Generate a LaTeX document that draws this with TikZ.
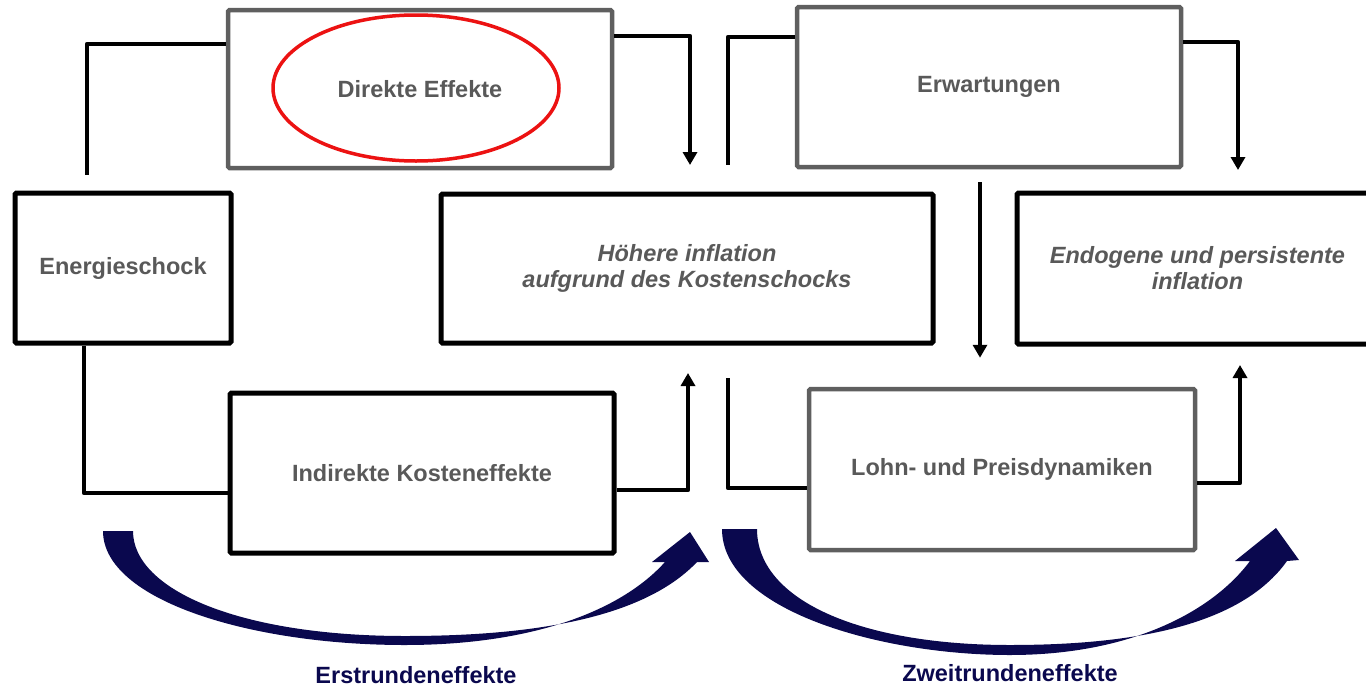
\documentclass[tikz,border=0pt]{standalone}
\usepackage{fontspec}
\setmainfont{Liberation Sans}
\usetikzlibrary{arrows.meta}

\definecolor{txtgray}{RGB}{89,89,89}
\definecolor{boxgray}{RGB}{95,95,95}
\definecolor{ringred}{RGB}{236,18,18}
\definecolor{roundnavy}{RGB}{10,8,78}

\tikzset{
	blackbox/.style={draw=black, line width=5pt, rounded corners=1.5pt, fill=white, inner sep=0pt,
		text=txtgray, align=center, font=\fontsize{23.5}{26}\selectfont\bfseries},
	graybox/.style={blackbox, draw=boxgray, line width=4.5pt},
	slanted/.style={font=\fontsize{23.5}{26}\selectfont\bfseries\itshape},
	link/.style={line width=4.5pt, line join=round},
	linkarrow/.style={link, -{Triangle[width=14pt,length=13pt]}},
	roundlabel/.style={text=roundnavy, font=\fontsize{23.5}{26}\selectfont\bfseries}}

\begin{document}
\begin{tikzpicture}[x=1pt,y=1pt,yscale=-1,xscale=1]
	\useasboundingbox (0,0) rectangle (1366,686);

	%Shape: Rectangle (top row)
	\node[graybox, minimum width=384pt, minimum height=158pt] (direkt) at (420,89) {Direkte Effekte};
	\node[graybox, minimum width=384pt, minimum height=160pt] (erw) at (989,87) {Erwartungen};
	%Shape: Rectangle (middle row)
	\node[blackbox, minimum width=216pt, minimum height=150pt] (energie) at (123,268) {Energieschock};
	\node[blackbox, slanted, minimum width=492pt, minimum height=149pt] (hoeher) at (687,268.5) {Höhere inflation\\aufgrund des Kostenschocks};
	\node[blackbox, slanted, minimum width=361pt, minimum height=151pt] (endogen) at (1197.5,268.5) {Endogene und persistente\\inflation};
	%Shape: Rectangle (bottom row)
	\node[blackbox, minimum width=384pt, minimum height=160pt] (indirekt) at (422,473) {Indirekte Kosteneffekte};
	\node[graybox, minimum width=386pt, minimum height=161pt] (lohn) at (1002,469.5) {Lohn- und Preisdynamiken};

	%Shape: Ellipse
	\draw[ringred, line width=3.5pt] (416,88) ellipse [x radius=143pt, y radius=73pt];

	%Straight Lines
	\coordinate (dl) at (87,175);
	\coordinate (dr) at (690,165);
	\coordinate (el) at (728,165);
	\coordinate (er) at (1238,170);
	\coordinate (ir) at (688,373);
	\coordinate (ll) at (728,378);
	\coordinate (lr) at (1240,365);
	\draw[link] ([yshift=-45pt]direkt.west) -| (dl);
	\draw[linkarrow] ([yshift=-53pt]direkt.east) -| (dr);
	\draw[link] ([yshift=-50pt]erw.west) -| (el);
	\draw[linkarrow] ([yshift=-45pt]erw.east) -| (er);
	\draw[linkarrow] ([xshift=-9pt,yshift=13pt]erw.south) -- ([xshift=-22pt,yshift=-29pt]lohn.north);
	\draw[link] ([xshift=-39pt]energie.south) |- ([yshift=20pt]indirekt.west);
	\draw[linkarrow] ([yshift=17pt]indirekt.east) -| (ir);
	\draw[link] (ll) |- ([yshift=18.5pt]lohn.west);
	\draw[linkarrow] ([yshift=13.5pt]lohn.east) -| (lr);

	%Curve Lines
	\fill[roundnavy] (103,531) .. controls (103,600) and (250,645) .. (405,645) .. controls (530,645) and (620,612) .. (665,562)
		-- (652,562) -- (690,532) -- (709,562) -- (697,562)
		.. controls (640,622) and (520,636) .. (405,636) .. controls (240,636) and (133,590) .. (133,531) -- cycle;
	\fill[roundnavy] (722,529) .. controls (722,610) and (880,655) .. (1010,655) .. controls (1130,655) and (1212,612) .. (1250,561)
		-- (1235,561) -- (1276,528) -- (1299,560) -- (1287,561)
		.. controls (1240,627) and (1130,645) .. (1010,645) .. controls (860,645) and (757,600) .. (757,529) -- cycle;

	\node[roundlabel] (erst) at (416,675) {Erstrundeneffekte};
	\node[roundlabel] (zweit) at (1010,673.5) {Zweitrundeneffekte};

\end{tikzpicture}
\end{document}
